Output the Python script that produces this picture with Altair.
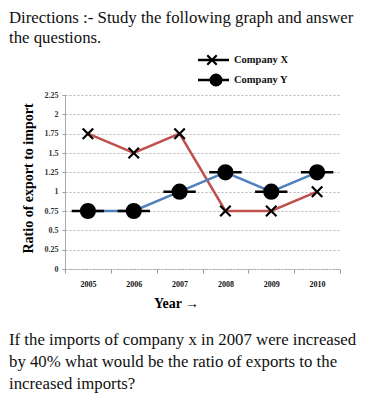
import altair as alt
import pandas as pd

years = ["2005", "2006", "2007", "2008", "2009", "2010"]
company_x = [1.75, 1.5, 1.75, 0.75, 0.75, 1.0]
company_y = [0.75, 0.75, 1.0, 1.25, 1.0, 1.25]
y_ticks = [0.0, 0.25, 0.5, 0.75, 1.0, 1.25, 1.5, 1.75, 2.0, 2.25]
legend_names = ["Company X", "Company Y"]
top_lines = ["Directions :- Study the following graph and answer", "the questions."]
bottom_lines = [
    "If the imports of company x in 2007 were increased",
    "by 40% what would be the ratio of exports to the",
    "increased imports?",
]

W, H = 275, 174
SERIF = "Liberation Serif"

df = pd.DataFrame({
    "idx": [i + 0.5 for i in range(len(years))],
    "year": years,
    "X": company_x,
    "Y": company_y,
})

xs = alt.Scale(domain=[0, len(years)], nice=False, zero=False)
ys = alt.Scale(domain=[0, 2.25], nice=False)

label_expr = "datum.value < %d ? %s[datum.value] : ''" % (len(years), str(years))

x_axis = alt.Axis(
    values=list(range(len(years) + 1)), labelExpr=label_expr, labelOffset=W / len(years) / 2,
    tickSize=4, tickColor="#999", domainColor="#aaa", domainDash=[2, 1], grid=False,
    labelFont=SERIF, labelFontSize=8, labelFontWeight="bold", labelColor="#111",
    labelPadding=7, labelFlush=False, labelOverlap=False,
    title="Year \u2192", titleFont=SERIF, titleFontSize=14, titleFontWeight="bold",
    titleX=111, titleY=34, titleAnchor="middle", titleBaseline="middle", titleAngle=0,
)
y_axis = alt.Axis(
    values=y_ticks, labelExpr="datum.value + ''", tickSize=3, tickColor="#999",
    domainColor="#aaa", grid=True, gridDash=[2, 2], gridColor="#b5b5b5",
    labelFont=SERIF, labelFontSize=8, labelFontWeight="bold", labelColor="#333", labelPadding=4,
    labelOverlap=False, labelFlush=False, tickCount=10,
    title="Ratio of export to import", titleFont=SERIF, titleFontSize=14,
    titleFontWeight="bold", titleX=-37, titleY=83, titleAngle=-90,
    titleAnchor="middle", titleBaseline="middle",
)

base = alt.Chart(df)
line_x = base.mark_line(color="#C0504D", strokeWidth=2.5).encode(
    x=alt.X("idx:Q", scale=xs, axis=x_axis), y=alt.Y("X:Q", scale=ys, axis=y_axis))
line_y = base.mark_line(color="#4F81BD", strokeWidth=2.5).encode(
    x=alt.X("idx:Q", scale=xs, axis=x_axis), y=alt.Y("Y:Q", scale=ys, axis=y_axis))

CROSS = "M-1,-1L1,1M-1,1L1,-1"
DASH = "M-1,0L1,0"
pts_x = base.mark_point(shape=CROSS, size=110, stroke="black", strokeWidth=2.2, filled=False, opacity=1).encode(
    x=alt.X("idx:Q", scale=xs, axis=x_axis), y=alt.Y("X:Q", scale=ys, axis=y_axis))
dash_y = base.mark_point(shape=DASH, size=1050, stroke="black", strokeWidth=2.5, filled=False, opacity=1).encode(
    x=alt.X("idx:Q", scale=xs, axis=x_axis), y=alt.Y("Y:Q", scale=ys, axis=y_axis))
pts_y = base.mark_point(shape="circle", size=200, fill="black", stroke="black", filled=True, opacity=1).encode(
    x=alt.X("idx:Q", scale=xs, axis=x_axis), y=alt.Y("Y:Q", scale=ys, axis=y_axis))

# legend
leg = pd.DataFrame({"name": legend_names, "py": [-35, -15]})
lb = alt.Chart(leg)
ypx = alt.Y("py:Q", scale=None, axis=None)
leg_line = lb.mark_rule(color="black", strokeWidth=2.5).encode(
    x=alt.value(133), x2=alt.value(164), y=ypx)
leg_cross = alt.Chart(leg.iloc[[0]]).mark_point(shape=CROSS, size=90, stroke="black", strokeWidth=2.2, opacity=1).encode(
    x=alt.value(147), y=ypx)
leg_circ = alt.Chart(leg.iloc[[1]]).mark_point(shape="circle", size=170, fill="black", filled=True, opacity=1).encode(
    x=alt.value(151), y=ypx)
leg_text = lb.mark_text(align="left", baseline="middle", font=SERIF, fontSize=10.5, fontWeight="bold", color="#111").encode(
    x=alt.value(169), y=ypx, text="name:N")

# question texts
tt = pd.DataFrame({"t": top_lines, "py": [-77, -57]})
top_text = alt.Chart(tt).mark_text(align="left", baseline="middle", font=SERIF, fontSize=16.8, color="#111").encode(
    x=alt.value(-56), y=ypx, text="t:N")
bt = pd.DataFrame({"t": bottom_lines, "py": [245, 267, 289]})
bot_text = alt.Chart(bt).mark_text(align="left", baseline="middle", font=SERIF, fontSize=16.8, color="#111").encode(
    x=alt.value(-56), y=ypx, text="t:N")

chart = alt.layer(
    line_x, line_y, pts_x, dash_y, pts_y,
    leg_line, leg_cross, leg_circ, leg_text, top_text, bot_text,
).properties(
    width=W, height=H,
    autosize=alt.AutoSizeParams(type="none"),
    padding={"left": 57, "top": 87, "right": 25, "bottom": 124},
).configure_view(stroke=None)

chart.save("out.html", embed_options={"renderer": "svg", "actions": False})
